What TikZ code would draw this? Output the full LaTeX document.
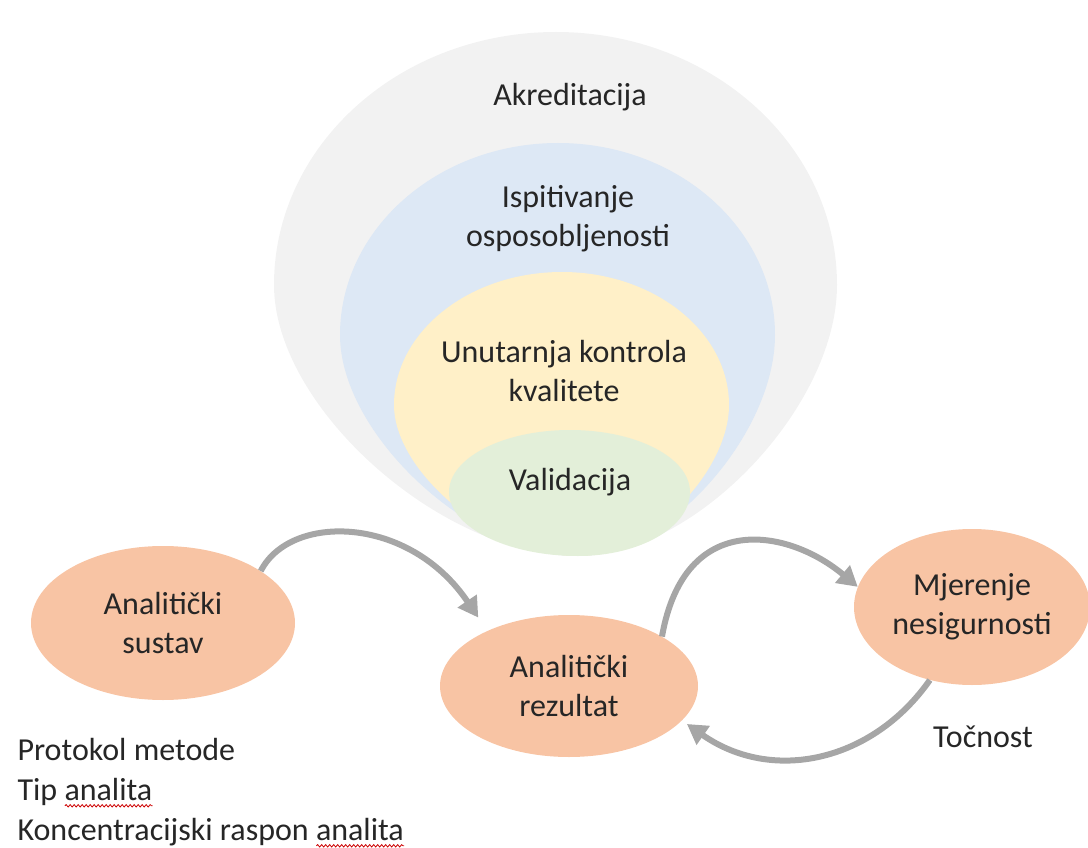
\documentclass[tikz,border=0pt]{standalone}
\usepackage{fontspec}
\setmainfont{Carlito}
\usetikzlibrary{arrows.meta,shapes.geometric,decorations.pathmorphing}

\definecolor{circGrey}{HTML}{F2F2F2}
\definecolor{circBlue}{HTML}{DDE8F5}
\definecolor{circYellow}{HTML}{FFF0C8}
\definecolor{circGreen}{HTML}{E3EFD9}
\definecolor{stageOrange}{HTML}{F8C4A4}
\definecolor{arrowGrey}{HTML}{A6A6A6}
\definecolor{textDark}{HTML}{262626}

\newsavebox{\wavebox}
\newdimen\wavewidth
\newcommand{\spellwave}[1]{\sbox{\wavebox}{#1}\wavewidth=\wd\wavebox
  \rlap{\tikz[baseline=0pt,x=1pt,y=1pt]\draw[red!80!black, line width=0.8pt, decorate,
    decoration={snake, amplitude=1.2pt, segment length=4pt}] (0,-5) -- (\wavewidth,-5);}\usebox{\wavebox}}

\begin{document}
\begin{tikzpicture}[
    x=1pt, y=-1pt,
    >={Triangle[length=20pt,width=22pt]},
    font=\fontsize{32}{39}\selectfont,
    text=textDark,
    stage/.style={ellipse, fill=stageOrange, inner sep=-15pt, align=center},
    ring/.style={align=center},
    flow/.style={->, draw=arrowGrey, line width=6pt}
]

\useasboundingbox (0,0) rectangle (1088,848);

% -- Nested quality levels --
\fill[circGrey] (578,556) .. controls (441,556) and (274,407) .. (274,285)
  .. controls (274,145) and (400,32) .. (556,32)
  .. controls (711,32) and (837,145) .. (837,285)
  .. controls (837,407) and (695,556) .. (578,556);
\fill[circBlue] (578,556) .. controls (471,556) and (340,434) .. (340,335)
  .. controls (340,229) and (438,143) .. (558,143)
  .. controls (678,143) and (775,229) .. (775,335)
  .. controls (775,434) and (667,556) .. (578,556);
\fill[circYellow] (578,556) .. controls (495,556) and (394,473) .. (394,405)
  .. controls (394,332) and (469,272) .. (562,272)
  .. controls (654,272) and (729,332) .. (729,405)
  .. controls (729,473) and (646,556) .. (578,556);
\fill[circGreen] (578,556) .. controls (507,556) and (449,527) .. (449,492)
  .. controls (449,458) and (503,430) .. (570,430)
  .. controls (637,430) and (690,458) .. (690,492)
  .. controls (690,527) and (640,556) .. (578,556);

\node[ring] (akreditacija) at (570,97) {Akreditacija};
\node[ring] (ispitivanje) at (568,219) {Ispitivanje\\osposobljenosti};
\node[ring] (kontrola) at (564,371) {Unutarnja kontrola\\kvalitete};
\node[ring] (validacija) at (570,482) {Validacija};

% -- Measurement chain --
\node[stage, minimum width=264pt, minimum height=154pt] (sustav) at (163,623) {Analitički\\sustav};
\node[stage, minimum width=258pt, minimum height=142pt] (rezultat) at (569,686) {Analitički\\rezultat};
\node[stage, minimum width=236pt, minimum height=156pt] (mjerenje) at (972,607) {Mjerenje\\nesigurnosti};

\node (tocnost) at (983,737) {Točnost};
\node[anchor=west, align=left, font=\fontsize{32}{40}\selectfont] (sustavNotes) at (14,793)
  {Protokol metode\\Tip \spellwave{analita}\\Koncentracijski raspon \spellwave{analita}};

\draw[flow, shorten >=16pt] (sustav.28) to[out=63, in=124, out distance=65pt, in distance=140pt] (rezultat.146);
\draw[flow] (rezultat.28) to[out=80, in=140, out distance=130pt, in distance=90pt] (mjerenje.170);
\draw[flow, shorten >=6pt] (mjerenje.240) to[out=235, in=-35, out distance=100pt, in distance=110pt] (rezultat.343);

\end{tikzpicture}
\end{document}
